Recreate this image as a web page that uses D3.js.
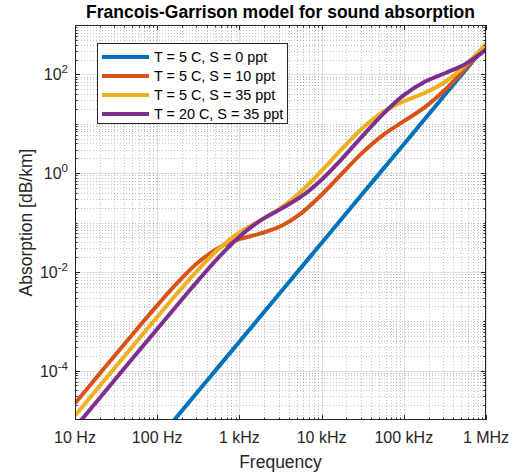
<!DOCTYPE html>
<html><head><meta charset="utf-8">
<script src="https://cdn.jsdelivr.net/npm/d3@7"></script>
<style>body{margin:0;background:#fff} text{font-family:"Liberation Sans",Arial,Helvetica,sans-serif;fill:#262626}</style>
</head><body><svg id="c" width="525" height="475"></svg>
<script>
// Frequencies (Hz) of the read points, quarter-decade spacing
const freqsHz = [10, 17.78, 31.62, 56.23, 100, 177.8, 316.2, 562.3, 1000, 1778, 3162, 5623, 10000, 17783, 31623, 56234, 100000, 177828, 316228, 562341, 1000000];
// Absorption values (dB/km)
const seriesT5S0  = [3.85e-8, 1.218e-7, 3.85e-7, 1.218e-6, 3.85e-6, 1.218e-5, 3.85e-5, 1.218e-4, 3.85e-4, 1.218e-3, 3.85e-3, 0.01218, 0.0385, 0.1218, 0.385, 1.218, 3.851, 12.18, 38.51, 121.8, 385.1];
const seriesT5S10 = [2.181e-5, 6.892e-5, 2.174e-4, 6.815e-4, 2.099e-3, 6.130e-3, 0.01563, 0.03085, 0.04584, 0.05944, 0.08386, 0.1533, 0.3657, 0.9931, 2.635, 5.974, 11.26, 21.19, 48.18, 131.7, 395.1];
const seriesT5S35 = [1.231e-5, 3.891e-5, 1.230e-4, 3.880e-4, 1.218e-3, 3.767e-3, 0.01114, 0.02940, 0.06275, 0.1097, 0.1945, 0.4241, 1.117, 3.134, 8.206, 17.47, 28.61, 41.86, 70.19, 154.1, 417.7];
const seriesT20S35 = [7.012e-6, 2.217e-5, 7.010e-5, 2.215e-4, 6.986e-4, 2.192e-3, 6.764e-3, 0.01988, 0.05170, 0.1080, 0.1865, 0.3327, 0.7369, 1.974, 5.694, 15.90, 38.06, 70.23, 105.5, 162.5, 316.5];
const seriesLabels = ["T = 5 C, S = 0 ppt", "T = 5 C, S = 10 ppt", "T = 5 C, S = 35 ppt", "T = 20 C, S = 35 ppt"];
const seriesColors = ["#0072BD", "#D95319", "#EDB120", "#7E2F8E"];
const xTickValues = [10, 100, 1000, 10000, 100000, 1000000];
const xTickLabels = ["10 Hz", "100 Hz", "1 kHz", "10 kHz", "100 kHz", "1 MHz"];
const yTickExponents = [-4, -2, 0, 2];
const titleText = "Francois-Garrison model for sound absorption";
const xLabelText = "Frequency";
const yLabelText = "Absorption [dB/km]";

const allSeries = [seriesT5S0, seriesT5S10, seriesT5S35, seriesT20S35];

const L = 75, R = 486, T = 25, B = 420;
const svg = d3.select("#c");
const x = d3.scaleLog().domain([10, 1e6]).range([L, R]);
const y = d3.scaleLog().domain([1e-5, 1e3]).range([B, T]);
const ink = "#262626";
const px = v => Math.round(v) + 0.5;

// grid
const g = svg.append("g");
const xMinor = [], yMinor = [];
for (let e = 1; e < 6; e++) for (let k = 2; k <= 9; k++) xMinor.push(k * Math.pow(10, e));
for (let e = -5; e < 3; e++) for (let k = 1; k <= 9; k++) {
  const v = k * Math.pow(10, e);
  if (!(k === 1 && yTickExponents.includes(e)) && v > 1e-5) yMinor.push(v);
}
g.selectAll(".xm").data(xMinor).join("line")
  .attr("x1", d => px(x(d))).attr("x2", d => px(x(d))).attr("y1", T).attr("y2", B)
  .attr("stroke", ink).attr("stroke-opacity", 0.27).attr("stroke-dasharray", "1 2");
g.selectAll(".ym").data(yMinor).join("line")
  .attr("y1", d => px(y(d))).attr("y2", d => px(y(d))).attr("x1", L).attr("x2", R)
  .attr("stroke", ink).attr("stroke-opacity", 0.27).attr("stroke-dasharray", "1 2");
g.selectAll(".xM").data(xTickValues).join("line")
  .attr("x1", d => px(x(d))).attr("x2", d => px(x(d))).attr("y1", T).attr("y2", B)
  .attr("stroke", ink).attr("stroke-opacity", 0.15);
g.selectAll(".yM").data(yTickExponents).join("line")
  .attr("y1", d => px(y(Math.pow(10, d)))).attr("y2", d => px(y(Math.pow(10, d)))).attr("x1", L).attr("x2", R)
  .attr("stroke", ink).attr("stroke-opacity", 0.15);

// curves
svg.append("clipPath").attr("id", "clip").append("rect")
  .attr("x", L).attr("y", T).attr("width", R - L).attr("height", B - T);
const line = d3.line().x((d, i) => x(freqsHz[i])).y(d => y(d)).curve(d3.curveCatmullRom.alpha(0.5));
svg.append("g").attr("clip-path", "url(#clip)").selectAll("path").data(allSeries).join("path")
  .attr("d", d => line(d)).attr("fill", "none")
  .attr("stroke", (d, i) => seriesColors[i]).attr("stroke-width", 4)
  .attr("stroke-linejoin", "round");

// axes with inside ticks
const ax = svg.append("g").attr("stroke", ink).attr("stroke-width", 1);
const tick = (x1, y1, x2, y2) => ax.append("line").attr("x1", x1).attr("y1", y1).attr("x2", x2).attr("y2", y2);
xTickValues.forEach(v => { const X = px(x(v)); tick(X, B, X, B - 5); tick(X, T, X, T + 5); });
xMinor.forEach(v => { const X = px(x(v)); tick(X, B, X, B - 2.5); tick(X, T, X, T + 2.5); });
yTickExponents.forEach(e => { const Y = px(y(Math.pow(10, e))); tick(L, Y, L + 5, Y); tick(R, Y, R - 5, Y); });
yMinor.forEach(v => { const Y = px(y(v)); tick(L, Y, L + 2.5, Y); tick(R, Y, R - 2.5, Y); });
ax.append("rect").attr("x", L + 0.5).attr("y", T + 0.5).attr("width", R - L - 1).attr("height", B - T - 1).attr("fill", "none");

// tick labels
svg.selectAll(".xl").data(xTickValues).join("text")
  .attr("x", d => x(d)).attr("y", 443).attr("text-anchor", "middle").attr("font-size", 16)
  .text((d, i) => xTickLabels[i]);
const yl = svg.selectAll(".yl").data(yTickExponents).join("text")
  .attr("x", 68).attr("y", d => y(Math.pow(10, d)) + 6).attr("text-anchor", "end").attr("font-size", 16);
yl.append("tspan").text("10");
yl.append("tspan").attr("dy", -7).attr("font-size", 11.5).text(d => String(d));

// titles
svg.append("text").attr("x", (L + R) / 2).attr("y", 18).attr("text-anchor", "middle")
  .attr("font-size", 17.5).attr("font-weight", "bold").style("fill", "#000").text(titleText);
svg.append("text").attr("x", (L + R) / 2).attr("y", 468).attr("text-anchor", "middle")
  .attr("font-size", 17.5).text(xLabelText);
svg.append("text").attr("transform", `translate(32,${(T + B) / 2}) rotate(-90)`).attr("text-anchor", "middle")
  .attr("font-size", 17.5).text(yLabelText);

// legend
const lg = svg.append("g");
lg.append("rect").attr("x", 97.5).attr("y", 43.5).attr("width", 190).attr("height", 80)
  .attr("fill", "#fff").attr("stroke", ink).attr("stroke-width", 1);
seriesLabels.forEach((s, i) => {
  const yy = 57 + i * 19;
  lg.append("line").attr("x1", 102).attr("x2", 149).attr("y1", yy).attr("y2", yy)
    .attr("stroke", seriesColors[i]).attr("stroke-width", 4);
  lg.append("text").attr("x", 154).attr("y", yy + 5).attr("font-size", 14.4).style("fill", "#000").text(s);
});
</script></body></html>
